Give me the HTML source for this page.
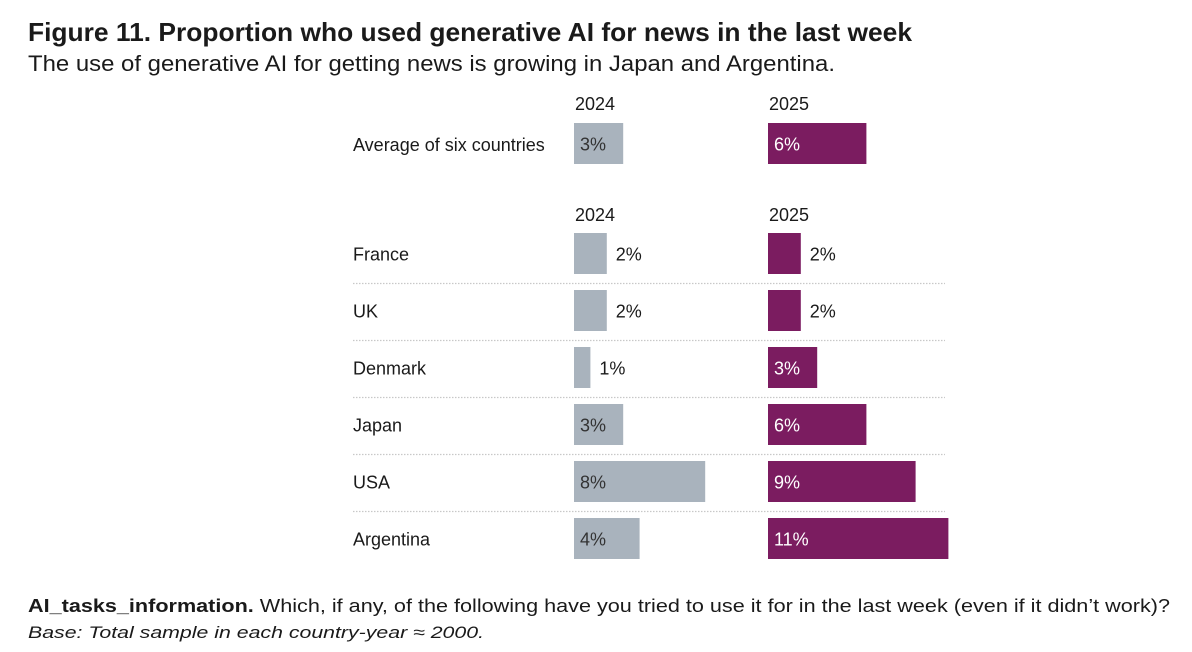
<!DOCTYPE html>
<html><head><meta charset="utf-8"><style>
body{margin:0;background:#fff;}
svg{display:block;font-family:"Liberation Sans",sans-serif;}
</style></head><body>
<svg width="1192" height="652" viewBox="0 0 1192 652">
<text x="28" y="41" font-family="'Liberation Sans Narrow','Liberation Sans',sans-serif" font-weight="bold" font-size="26" fill="#1a1a1a" textLength="884" lengthAdjust="spacingAndGlyphs">Figure 11. Proportion who used generative AI for news in the last week</text>
<text x="28" y="71" font-family="'Liberation Sans Narrow','Liberation Sans',sans-serif" font-size="22" fill="#1a1a1a" textLength="807" lengthAdjust="spacingAndGlyphs">The use of generative AI for getting news is growing in Japan and Argentina.</text>
<g id="plot"></g>
<text x="28" y="612" font-size="18" fill="#1a1a1a" textLength="1142" lengthAdjust="spacingAndGlyphs"><tspan font-weight="bold">AI_tasks_information.</tspan>  Which, if any, of the following have you tried to use it for in the last week (even if it didn’t work)?</text>
<text x="28" y="638" font-size="17" font-style="italic" fill="#1a1a1a" textLength="456" lengthAdjust="spacingAndGlyphs">Base: Total sample in each country-year ≈ 2000.</text>
</svg>
<script>
const avgLabel = "Average of six countries";
const avg2024 = 3;
const avg2025 = 6;
const countries = ["France","UK","Denmark","Japan","USA","Argentina"];
const values2024 = [2,2,1,3,8,4];
const values2025 = [2,2,3,6,9,11];
const years = ["2024","2025"];

const NS="http://www.w3.org/2000/svg";
const g=document.getElementById('plot');
const x0={a:574,b:768}, pxPer=16.4, barH=41;
function xs(v){return v*pxPer;}
function mk(tag,attrs){const e=document.createElementNS(NS,tag);for(const k in attrs)e.setAttribute(k,attrs[k]);g.appendChild(e);return e;}
function txt(s,x,y,fill,name){const t=mk('text',{x:x,y:y,'font-size':18,fill:fill,'dominant-baseline':'central'});t.textContent=s;


return t;}
function bar(x,y,v,color,textColor,name){
  const r=mk('rect',{x:x,y:y,width:xs(v),height:barH,fill:color});
  
  
  if(v>=3) txt(v+"%",x+6,y+barH/2+1,textColor,name+'-label');
  else txt(v+"%",x+xs(v)+9,y+barH/2+1,'#1a1a1a',name+'-label');
}
function headers(y){txt(years[0],575,y,'#1a1a1a','year-header');txt(years[1],769,y,'#1a1a1a','year-header');}
headers(104);
txt(avgLabel,353,145,'#1a1a1a','row-label-average');
bar(x0.a,123,avg2024,'#a9b3bd','#333','bar-average-2024');
bar(x0.b,123,avg2025,'#7b1c60','#fff','bar-average-2025');
headers(215);
countries.forEach((c,i)=>{
  const y=233+i*57;
  txt(c,353,y+barH/2+1,'#1a1a1a','row-label-'+c.toLowerCase());
  bar(x0.a,y,values2024[i],'#a9b3bd','#333','bar-'+c.toLowerCase()+'-2024');
  bar(x0.b,y,values2025[i],'#7b1c60','#fff','bar-'+c.toLowerCase()+'-2025');
  if(i<countries.length-1){
    const l=mk('line',{x1:353,x2:945,y1:y+barH+9.5,y2:y+barH+9.5,stroke:'#c8c8c8','stroke-width':1.2,'stroke-dasharray':'1.5 1.5'});
    
    
  }
});
</script>
</body></html>
